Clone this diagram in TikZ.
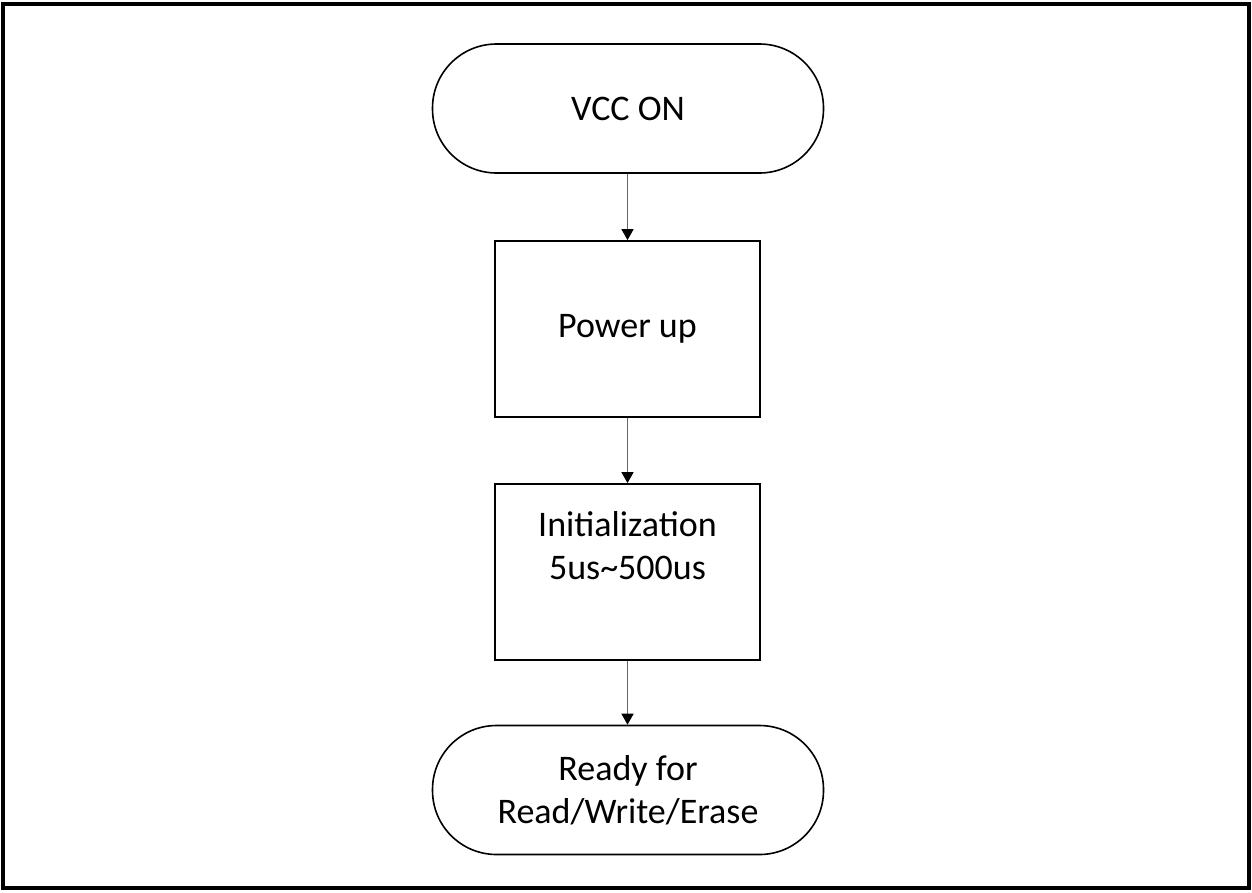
\documentclass[tikz,border=0pt]{standalone}
\usepackage{fontspec}
\setmainfont{Carlito}
\usetikzlibrary{arrows.meta}
\begin{document}
\begin{tikzpicture}[x=1pt,y=-1pt,
  term/.style={draw,line width=1.6pt,rounded corners=64pt,minimum width=391pt,minimum height=129pt,align=center,font=\fontsize{36}{43}\selectfont,inner sep=0pt},
  proc/.style={draw,line width=1.8pt,minimum width=265pt,minimum height=176pt,align=center,font=\fontsize{36}{43}\selectfont,inner sep=0pt},
  conn/.style={draw=black!60,line width=1.5pt,-{Triangle[width=12pt,length=11pt,black]}}]
\useasboundingbox (0,0) rectangle (1252,892);
\draw[line width=3.5pt] (3,4) rectangle (1249,888);
\node[term] (vcc) at (628,108.5) {VCC ON};
\node[proc] (pwr) at (627.5,329) {Power up};
\node[proc] (init) at (627.5,572) {\raisebox{16pt}[0pt][0pt]{\begin{tabular}{@{}c@{}}Initialization\\5us\textasciitilde500us\end{tabular}}};
\node[term] (ready) at (628,790) {Ready for\\Read/Write/Erase};
\draw[conn] (vcc.south -| pwr.north) -- (pwr.north);
\draw[conn] (pwr.south) -- (init.north);
\draw[conn] (init.south) -- (ready.north -| init.south);
\end{tikzpicture}
\end{document}
